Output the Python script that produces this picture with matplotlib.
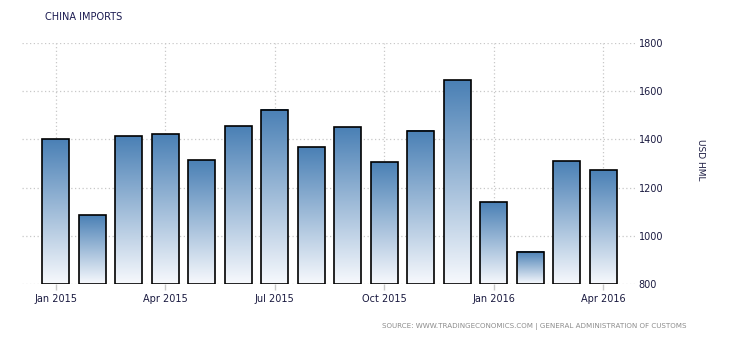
import matplotlib
matplotlib.use("Agg")
import matplotlib.pyplot as plt
import numpy as np
from matplotlib.colors import LinearSegmentedColormap

months = ["Jan 2015", "Feb 2015", "Mar 2015", "Apr 2015", "May 2015", "Jun 2015",
          "Jul 2015", "Aug 2015", "Sep 2015", "Oct 2015", "Nov 2015", "Dec 2015",
          "Jan 2016", "Feb 2016", "Mar 2016", "Apr 2016"]
imports = [1400, 1085, 1413, 1421, 1313, 1455, 1522, 1368, 1451, 1306, 1435, 1646,
           1140, 933, 1310, 1273]
tick_labels = ["Jan 2015", "Apr 2015", "Jul 2015", "Oct 2015", "Jan 2016", "Apr 2016"]
y_ticks = [800, 1000, 1200, 1400, 1600, 1800]

fig = plt.figure(figsize=(7.3, 3.4), dpi=100)
ax = fig.add_axes([22/730, 1-284/340, (636-22)/730, (284-43)/340])

x = np.arange(len(imports))
ymin, ymax = 800, 1800
bars = ax.bar(x, [v - ymin for v in imports], bottom=ymin, width=0.74,
              facecolor="none", edgecolor="black", linewidth=1.2, zorder=4)

grad = np.linspace(0, 1, 256).reshape(-1, 1)
cmap = LinearSegmentedColormap.from_list("g", ["#f7f9fd", "#4a80b5"])
for b in bars:
    b.set_joinstyle("miter")
    bx, by = b.get_x(), b.get_y()
    w, h = b.get_width(), b.get_height()
    im = ax.imshow(grad, extent=[bx, bx + w, by, by + h], origin="lower",
                   cmap=cmap, aspect="auto", zorder=3, interpolation="bilinear")

ax.set_xlim(-0.93, 15.9)
ax.set_ylim(ymin, ymax)

tick_pos = [months.index(t) for t in tick_labels]
ax.set_xticks(tick_pos)
ax.set_xticklabels(tick_labels)
ax.set_yticks(y_ticks)
ax.yaxis.tick_right()
ax.tick_params(axis="y", length=0, pad=2, labelsize=7, labelcolor="#1a1a40")
ax.tick_params(axis="x", length=4, width=1, color="#c8c8c8", pad=3,
               labelsize=7, labelcolor="#1a1a40")
ax.grid(True, linestyle=(0, (1, 2)), color="#c8c8c8", linewidth=0.9, zorder=0)
ax.set_axisbelow(True)
for s in ax.spines.values():
    s.set_visible(False)

fig.text(700/730, 1-160/340, "USD HML", rotation=-90, fontsize=6.5,
         color="#1a1a40", ha="center", va="center")
fig.text(45/730, 1-17/340, "CHINA IMPORTS", fontsize=7, color="#1a1a50",
         ha="left", va="center")
fig.text(686/730, 1-326/340,
         "SOURCE: WWW.TRADINGECONOMICS.COM | GENERAL ADMINISTRATION OF CUSTOMS",
         fontsize=5.1, color="#8c8c8c", ha="right", va="center")

fig.savefig("out.png", dpi=100)
